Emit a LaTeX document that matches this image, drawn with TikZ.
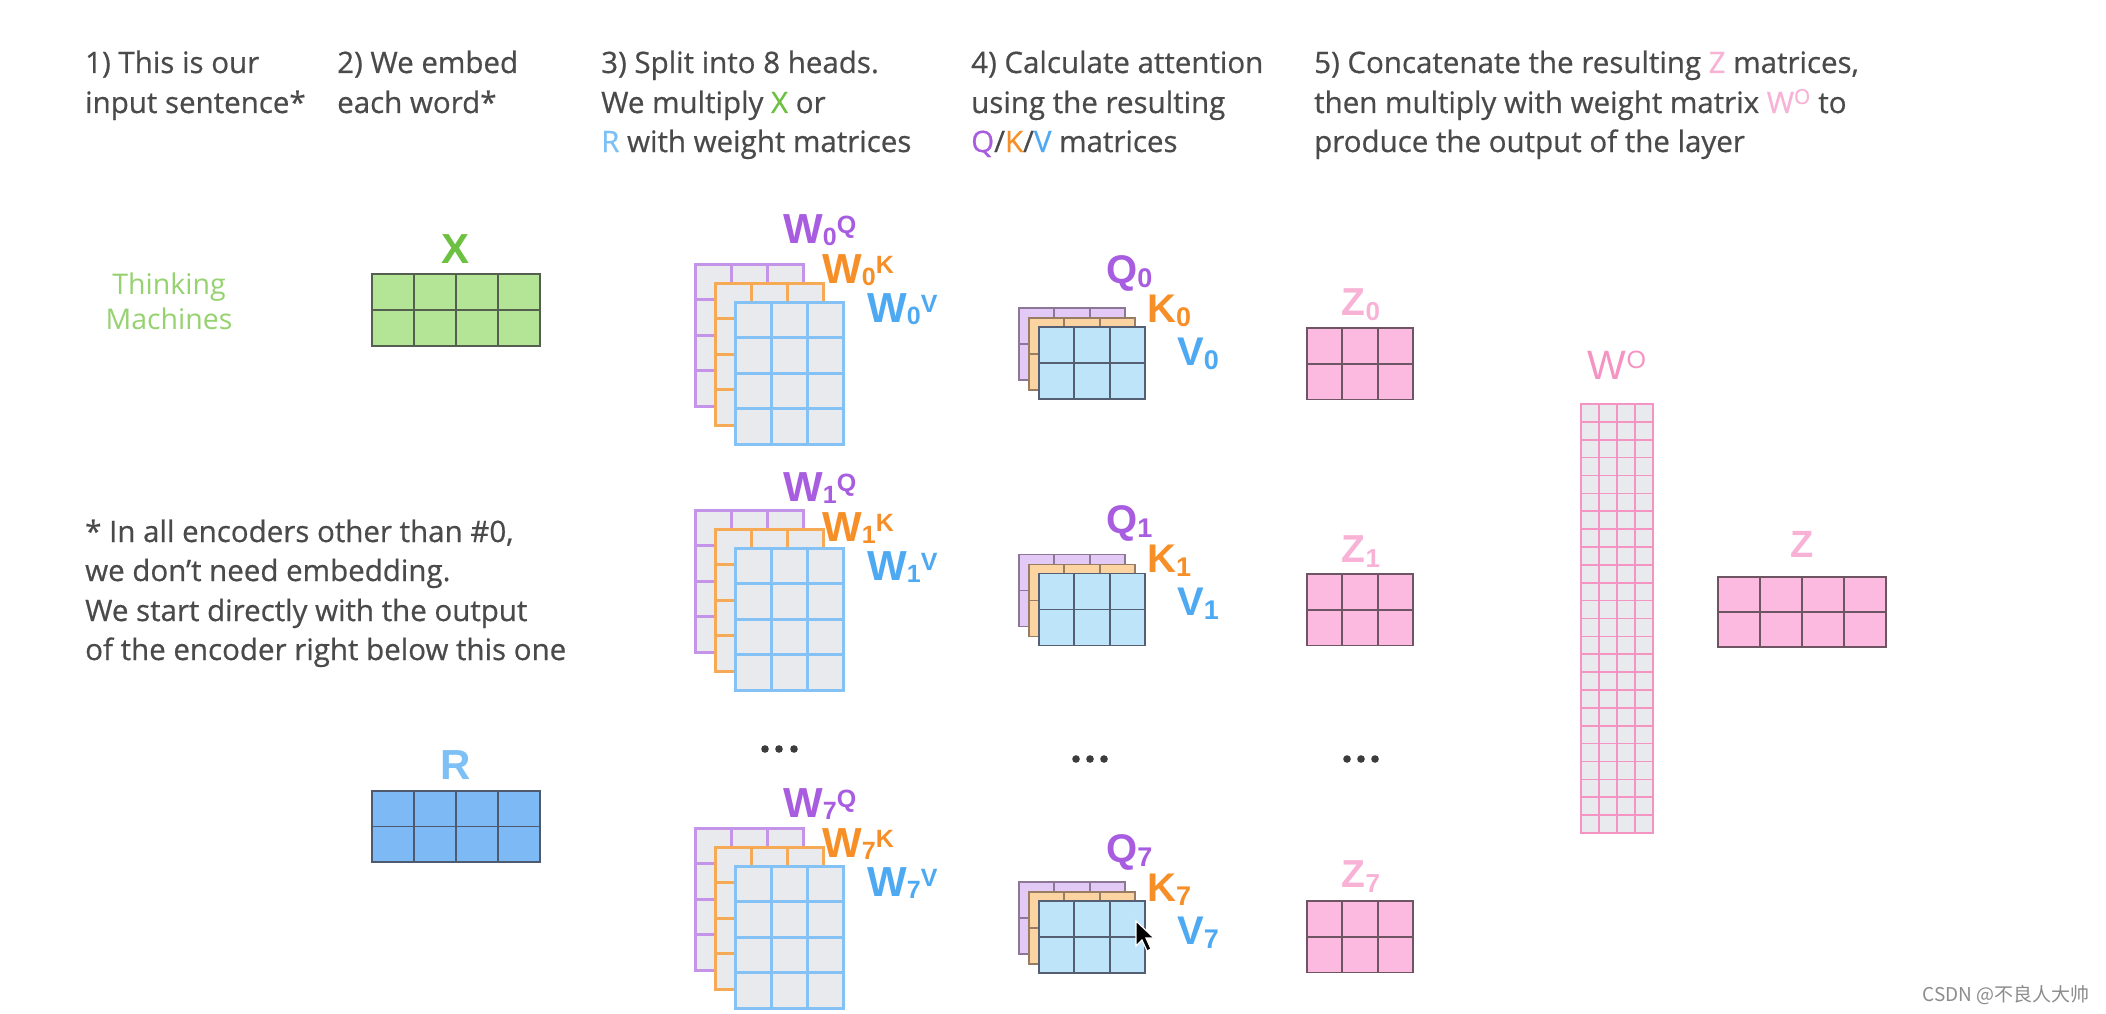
\documentclass[tikz,border=0pt]{standalone}
\usepackage{fontspec}
\setmainfont{Open Sans}
\newfontfamily\hdrfont[FakeBold=0.6]{Open Sans}
\newfontfamily\lblfont{Liberation Sans}
\newfontfamily\cjkfont{Noto Sans CJK SC}
\definecolor{txt}{RGB}{74,74,74}
\definecolor{xgreen}{RGB}{108,192,66}
\definecolor{tgreen}{RGB}{150,210,112}
\definecolor{rblue}{RGB}{125,192,245}
\definecolor{qpurple}{RGB}{168,92,224}
\definecolor{korange}{RGB}{247,143,40}
\definecolor{vblue}{RGB}{78,169,243}
\definecolor{zpink}{RGB}{248,178,214}
\definecolor{wgrey}{RGB}{233,234,237}
\definecolor{wpline}{RGB}{196,148,232}
\definecolor{woline}{RGB}{246,170,85}
\definecolor{wbline}{RGB}{132,193,245}
\definecolor{qfill}{RGB}{226,201,246}
\definecolor{qline}{RGB}{140,120,150}
\definecolor{kfill}{RGB}{252,212,162}
\definecolor{kline}{RGB}{150,125,100}
\definecolor{vfill}{RGB}{190,228,250}
\definecolor{vline}{RGB}{85,95,115}
\definecolor{xfill}{RGB}{180,228,150}
\definecolor{xline}{RGB}{85,95,80}
\definecolor{rfill}{RGB}{125,185,245}
\definecolor{rline}{RGB}{80,90,110}
\definecolor{zfill}{RGB}{252,186,224}
\definecolor{zline}{RGB}{110,85,100}
\definecolor{woutline}{RGB}{245,148,194}
\definecolor{dotc}{RGB}{60,60,60}
\definecolor{wmark}{RGB}{140,140,140}
% matrix: x y cols rows cellw cellh fill drawstyle
\newcommand\mymat[8]{%
  \fill[#7] (#1,#2) rectangle ++({#3*#5},{#4*#6});
  \foreach \ci in {1,...,#3}{\foreach \ri in {1,...,#4}{%
    \draw[#8] ({#1+(\ci-1)*#5},{#2+(\ri-1)*#6}) rectangle ++(#5,#6);}}}
\newcommand\wlab[2]{{\fontsize{42}{42}\selectfont W}\raisebox{-2pt}{\fontsize{25}{25}\selectfont #1}\raisebox{10pt}{\fontsize{25}{25}\selectfont #2}}
\newcommand\qlab[2]{{\fontsize{40}{40}\selectfont #1}\raisebox{-4pt}{\fontsize{27}{27}\selectfont #2}}
\begin{document}
\begin{tikzpicture}[x=1pt,y=-1pt,
  hdr/.style={anchor=base west, inner sep=0pt, text=txt, font=\hdrfont\fontsize{29.5}{36}\selectfont},
  lbl/.style={anchor=base west, inner sep=0pt, font=\lblfont\bfseries},
  clbl/.style={anchor=base, inner sep=0pt, font=\lblfont\bfseries},
  wl/.style={line width=3pt},
  ml/.style={line width=1.8pt}]
\fill[white] (0,0) rectangle (2106,1014);
\useasboundingbox (0,0) rectangle (2106,1014);

% headers
\node[hdr] (h1a) at (85,73) {1) This is our};
\node[hdr] (h1b) at (85,113) {input sentence*};
\node[hdr] (h2a) at (337,73) {2) We embed};
\node[hdr] (h2b) at (337,113) {each word*};
\node[hdr] (h3a) at (601,73) {3) Split into 8 heads.};
\node[hdr] (h3b) at (601,113) {We multiply \textcolor{xgreen}{X} or};
\node[hdr] (h3c) at (601,152) {\textcolor{rblue}{R} with weight matrices};
\node[hdr] (h4a) at (971,73) {4) Calculate attention};
\node[hdr] (h4b) at (971,113) {using the resulting};
\node[hdr] (h4c) at (971,152) {\textcolor{qpurple}{Q}/\textcolor{korange}{K}/\textcolor{vblue}{V} matrices};
\node[hdr] (h5a) at (1314,73) {5) Concatenate the resulting \textcolor{zpink}{Z} matrices,};
\node[hdr] (h5b) at (1314,113) {then multiply with weight matrix \textcolor{zpink}{W\textsuperscript{O}} to};
\node[hdr] (h5c) at (1314,152) {produce the output of the layer};

% footnote
\node[hdr] (f1) at (85,542) {* In all encoders other than \#0,};
\node[hdr] (f2) at (85,581) {we don’t need embedding.};
\node[hdr] (f3) at (85,621) {We start directly with the output};
\node[hdr] (f4) at (85,660) {of the encoder right below this one};

% input sentence
\node[anchor=base, inner sep=0pt, text=tgreen, font=\fontsize{28.5}{36}\selectfont] (t1) at (169,294) {Thinking};
\node[anchor=base, inner sep=0pt, text=tgreen, font=\fontsize{28.5}{36}\selectfont] (t2) at (169,329) {Machines};

% X and R
\node[clbl, text=xgreen, font=\lblfont\bfseries\fontsize{42}{42}\selectfont] (xl) at (456,263) {X};
\mymat{372}{274}{4}{2}{42}{36}{xfill}{ml, draw=xline}
\node[clbl, text=rblue, font=\lblfont\bfseries\fontsize{42}{42}\selectfont] (rl) at (456,779) {R};
\mymat{372}{791}{4}{2}{42}{35.5}{rfill}{ml, draw=rline}

% heads
\foreach \n/\dm/\dl/\qm/\ql/\zm/\zl in {0/0/0/0/0/0/0, 1/246/258/246.5/250/246/247, 7/564/574/574/579/573/572}{
  \mymat{695}{264+\dm}{3}{4}{36}{35.5}{wgrey}{wl, draw=wpline}
  \mymat{715.5}{283+\dm}{3}{4}{36}{35.5}{wgrey}{wl, draw=woline}
  \mymat{735}{302+\dm}{3}{4}{36}{35.5}{wgrey}{wl, draw=wbline}
  \node[lbl, text=qpurple] (wq\n) at (783,{243+\dl}) {\wlab{\n}{Q}};
  \node[lbl, text=korange] (wk\n) at (822,{283+\dl}) {\wlab{\n}{K}};
  \node[lbl, text=vblue] (wv\n) at (867,{322+\dl}) {\wlab{\n}{V}};
  \mymat{1019}{308+\qm}{3}{2}{35.33}{36}{qfill}{ml, draw=qline}
  \mymat{1029}{318+\qm}{3}{2}{35.33}{36}{kfill}{ml, draw=kline}
  \mymat{1039}{327+\qm}{3}{2}{35.33}{36}{vfill}{ml, draw=vline}
  \node[lbl, text=qpurple] (q\n) at (1106,{283+\ql}) {\qlab{Q}{\n}};
  \node[lbl, text=korange] (k\n) at (1147,{322+\ql}) {\qlab{K}{\n}};
  \node[lbl, text=vblue] (v\n) at (1177,{365+\ql}) {\qlab{V}{\n}};
  \mymat{1307}{328+\zm}{3}{2}{35.33}{35.7}{zfill}{ml, draw=zline}
  \node[clbl, text=zpink] (z\n) at (1361,{315+\zl}) {{\fontsize{39}{39}\selectfont Z}\raisebox{-5pt}{\fontsize{26}{26}\selectfont \n}};
}

% dots
\foreach \x in {765,779,794}{\fill[dotc] (\x,749) circle[radius=3.8pt];}
\foreach \x in {1076,1090,1104}{\fill[dotc] (\x,759) circle[radius=3.8pt];}
\foreach \x in {1347,1361,1375}{\fill[dotc] (\x,759) circle[radius=3.8pt];}

% W^O
\node[anchor=base, inner sep=0pt, text=woutline, font=\lblfont\fontsize{41}{41}\selectfont] (wo) at (1617,379) {W\raisebox{11pt}{\fontsize{25}{25}\selectfont O}};
\mymat{1581}{404}{4}{24}{18}{17.875}{wgrey}{line width=1.7pt, draw=woutline}

% Z
\node[clbl, text=zpink, font=\lblfont\bfseries\fontsize{38}{38}\selectfont] (zl) at (1802,557) {Z};
\mymat{1718}{577}{4}{2}{42}{35}{zfill}{ml, draw=zline}

% cursor
\filldraw[fill=black, draw=white, line width=1.2pt] (1136,921) -- (1136,946) -- (1142,940) -- (1147,951) -- (1151,949) -- (1146,938) -- (1154,938) -- cycle;

% watermark
\node[anchor=base east, inner sep=0pt, text=wmark, font=\cjkfont\fontsize{19}{19}\selectfont] (wm) at (2090,1001) {CSDN @不良人大帅};
\end{tikzpicture}
\end{document}
